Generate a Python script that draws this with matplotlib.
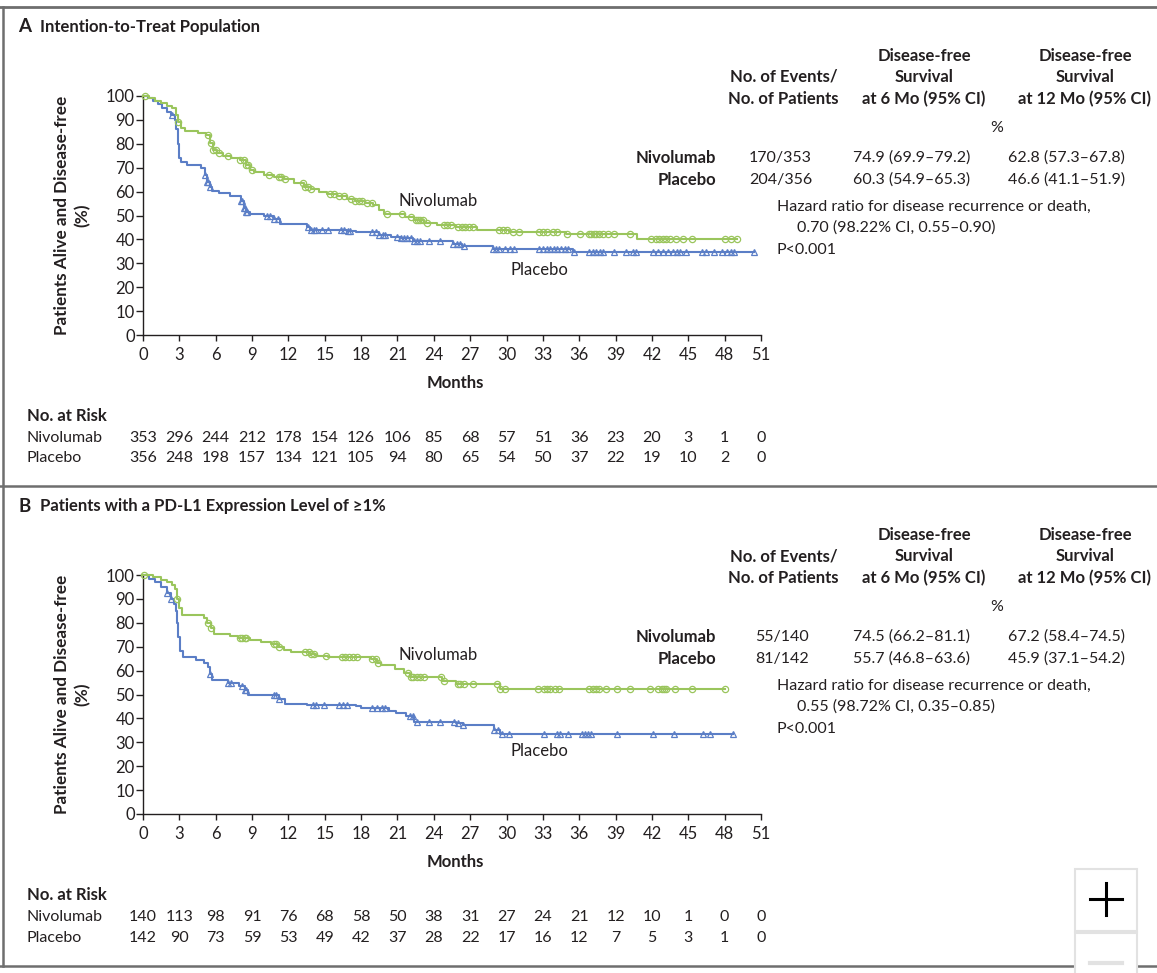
import numpy as np
import matplotlib
matplotlib.use('Agg')
import matplotlib.pyplot as plt
from matplotlib.patches import Rectangle
from matplotlib.lines import Line2D

# ---------------- DATA ----------------
months_ticks = list(range(0, 52, 3))
y_ticks = list(range(0, 101, 10))

# Panel A: Intention-to-treat
a_nivo_t = [0, 0.5, 1.0, 1.5, 2.0, 2.4, 2.7, 2.9, 3.1, 3.5, 4.5, 5.2, 5.5, 5.8, 6.1, 6.6, 7.3,
            8.0, 8.5, 8.8, 9.2, 10.0, 10.8, 11.6, 12.5, 13.3, 13.9, 14.5, 15.2, 16.0, 16.8, 17.5,
            18.3, 19.0, 19.5, 19.9, 21.6, 22.4, 23.2, 24.3, 25.8, 27.6, 30.2, 34.9, 40.8]
a_nivo_s = [100, 99, 98, 97, 96, 95, 92, 89, 86.5, 85.2, 84.5, 83.5, 80.5, 77.5, 76, 75, 74,
            73.2, 71, 69, 68, 67, 66, 65.2, 63.5, 62, 61, 60, 59, 58.2, 57, 56,
            55.2, 54.5, 52.5, 50.8, 49.2, 48.0, 47.0, 46.2, 45.3, 43.9, 43.1, 42.3, 40.1]
a_nivo_end = 49.0
a_nivo_cens = [0.2, 2.9, 5.4, 5.6, 5.8, 6.0, 6.3, 7.0, 8.0, 8.3, 8.5, 8.7, 9.0, 10.4, 11.2, 11.4,
               11.7, 13.2, 13.4, 13.6, 13.9, 15.4, 15.8, 16.2, 16.6, 17.2, 17.5, 17.8, 18.1, 18.5,
               18.9, 20.1, 21.4, 22.1, 22.5, 22.7, 22.9, 23.1, 23.4, 24.8, 25.1, 25.4, 26.0, 26.3,
               26.6, 26.9, 27.2, 29.4, 29.7, 30.0, 30.5, 31.0, 32.7, 33.0, 33.3, 33.8, 34.2, 35.0,
               36.1, 36.8, 37.0, 37.2, 37.4, 37.6, 38.0, 38.4, 38.9, 40.2, 41.9, 42.3, 42.6, 42.9,
               43.2, 43.5, 44.0, 44.6, 45.3, 48.0, 48.5, 49.0]

a_plac_t = [0, 0.4, 0.8, 1.2, 1.6, 2.0, 2.3, 2.6, 2.75, 2.85, 2.95, 3.1, 3.6, 4.8, 5.1, 5.3, 5.5,
            5.7, 6.3, 7.2, 8.1, 8.3, 8.5, 8.8, 10.0, 10.8, 11.3, 13.5, 13.8, 16.8, 17.6, 19.5,
            20.5, 21.3, 22.3, 25.6, 26.3, 28.9, 35.5]
a_plac_s = [100, 99, 98, 96.5, 95, 93.5, 92, 90, 86, 80, 74, 72.3, 71, 70, 67, 64, 62,
            60.4, 59.3, 58.3, 56, 53, 51.3, 50.5, 49.8, 48.5, 46.5, 45, 44, 43.5, 43, 42,
            41, 40.5, 39.5, 38, 37.2, 35.8, 34.9]
a_plac_end = 50.4
a_plac_cens = [2.4, 5.1, 5.3, 5.4, 5.5, 8.1, 8.2, 8.3, 8.4, 8.5, 8.6, 10.2, 10.5, 10.8, 11.1,
               13.6, 13.9, 14.1, 14.3, 14.8, 15.3, 16.3, 16.6, 16.9, 17.1, 18.9, 19.2, 19.5, 19.8,
               20.0, 21.0, 21.3, 21.5, 21.8, 22.1, 22.4, 22.6, 22.9, 23.6, 24.5, 25.6, 25.9, 26.2,
               26.5, 28.9, 29.1, 29.4, 29.9, 30.3, 30.6, 32.7, 33.0, 33.3, 33.6, 33.9, 34.2, 34.5,
               34.8, 35.1, 35.6, 36.8, 37.1, 37.4, 37.7, 38.0, 38.9, 39.9, 40.4, 40.7, 42.1, 42.5,
               42.9, 43.3, 43.7, 44.1, 44.3, 44.8, 46.1, 46.5, 47.1, 47.8, 48.2, 48.5, 48.8, 50.4]

a_risk_nivo = [353, 296, 244, 212, 178, 154, 126, 106, 85, 68, 57, 51, 36, 23, 20, 3, 1, 0]
a_risk_plac = [356, 248, 198, 157, 134, 121, 105, 94, 80, 65, 54, 50, 37, 22, 19, 10, 2, 0]
a_events = ["170/353", "204/356"]
a_dfs6 = ["74.9 (69.9\u201379.2)", "60.3 (54.9\u201365.3)"]
a_dfs12 = ["62.8 (57.3\u201367.8)", "46.6 (41.1\u201351.9)"]
a_hr = "0.70 (98.22% CI, 0.55\u20130.90)"

# Panel B: PD-L1 >= 1%
b_nivo_t = [0, 0.8, 1.5, 2.0, 2.4, 2.65, 2.8, 2.95, 3.2, 5.0, 5.3, 5.6, 5.9, 7.2, 7.8, 8.8, 9.7,
            10.6, 11.1, 11.6, 12.2, 13.8, 14.3, 15.3, 18.8, 19.3, 19.6, 20.8, 21.5, 22.0, 24.7,
            25.8, 29.5]
b_nivo_s = [100, 99, 98, 97, 96, 94, 90, 86, 83.4, 82, 80, 78, 75.5, 74.5, 73.7, 72.8, 72,
            71, 70, 68.5, 67.8, 67, 66, 65.5, 64.7, 63, 62.3, 60.5, 59, 57.5, 55.8,
            54.3, 52.2]
b_nivo_end = 48.0
b_nivo_cens = [0.1, 2.8, 5.4, 5.6, 8.0, 8.2, 8.4, 8.5, 10.8, 11.0, 11.2, 13.4, 13.7, 13.9, 14.1,
               15.1, 16.4, 16.7, 17.0, 17.3, 17.7, 18.9, 19.2, 19.4, 21.9, 22.1, 22.3, 22.6, 22.9,
               23.2, 24.6, 24.8, 26.0, 26.2, 26.5, 27.2, 29.2, 29.5, 29.9, 32.6, 33.1, 33.3, 33.6,
               34.0, 34.3, 36.8, 37.1, 37.4, 37.6, 38.2, 39.1, 40.2, 41.8, 42.5, 42.8, 43.0, 43.2,
               43.9, 45.3, 48.0]

b_plac_t = [0, 0.5, 1.0, 1.5, 2.0, 2.3, 2.55, 2.7, 2.8, 2.9, 3.05, 3.3, 4.4, 5.0, 5.35, 5.5,
            5.7, 7.0, 7.9, 8.4, 8.7, 11.2, 11.7, 13.5, 17.6, 18.0, 20.3, 20.9, 21.7, 22.4,
            25.8, 26.4, 29.0, 29.5]
b_plac_s = [100, 98.5, 97, 95, 92.5, 90, 88, 85, 80, 74, 68, 65.7, 64.6, 63, 61.6, 58.5,
            56, 55, 53.5, 52, 49.7, 48, 46, 45.5, 45, 44.2, 43, 42.3, 41, 38.7,
            38, 37.1, 35, 33.5]
b_plac_end = 48.7
b_plac_cens = [2.0, 2.3, 5.5, 7.0, 7.3, 8.2, 8.4, 8.5, 10.8, 11.0, 11.2, 14.0, 14.3, 14.9, 16.2,
               16.5, 16.8, 18.9, 19.3, 19.7, 20.0, 22.0, 22.3, 22.6, 23.6, 24.5, 25.7, 26.0, 26.4,
               29.0, 29.3, 29.6, 30.2, 33.1, 34.2, 34.4, 35.1, 36.2, 36.5, 36.7, 37.0, 39.1, 42.1,
               43.8, 46.2, 46.8, 48.7]

b_risk_nivo = [140, 113, 98, 91, 76, 68, 58, 50, 38, 31, 27, 24, 21, 12, 10, 1, 0, 0]
b_risk_plac = [142, 90, 73, 59, 53, 49, 42, 37, 28, 22, 17, 16, 12, 7, 5, 3, 1, 0]
b_events = ["55/140", "81/142"]
b_dfs6 = ["74.5 (66.2\u201381.1)", "55.7 (46.8\u201363.6)"]
b_dfs12 = ["67.2 (58.4\u201374.5)", "45.9 (37.1\u201354.2)"]
b_hr = "0.55 (98.72% CI, 0.35\u20130.85)"

groups = ["Nivolumab", "Placebo"]
titles = [("A", "Intention-to-Treat Population"),
          ("B", "Patients with a PD-L1 Expression Level of \u22651%")]

# ---------------- STYLE ----------------
GREEN = '#9AC55C'
BLUE = '#5B7EC6'
TXT = '#231F20'
FRAME = '#6E6E6E'
plt.rcParams['font.family'] = ['Lato', 'DejaVu Sans']
NARROW = ['Liberation Sans Narrow', 'Lato', 'DejaVu Sans']

W, H = 1157, 973
fig = plt.figure(figsize=(W / 100, H / 100), dpi=100)
fig.patch.set_facecolor('white')


def fx(x):
    return x / W


def fy(y):
    return 1 - y / H


def T(x, y, s, **kw):
    kw.setdefault('va', 'center')
    kw.setdefault('fontsize', 11.5)
    kw.setdefault('color', TXT)
    fig.text(fx(x), fy(y), s, **kw)


def step_value(t, s, x):
    i = np.searchsorted(np.array(t), x, side='right') - 1
    return np.array(s)[np.clip(i, 0, len(s) - 1)]


panels = [
    dict(dy=0, nt=a_nivo_t, ns=a_nivo_s, ne=a_nivo_end, nc=a_nivo_cens,
         pt=a_plac_t, ps=a_plac_s, pe=a_plac_end, pc=a_plac_cens,
         rn=a_risk_nivo, rp=a_risk_plac, ev=a_events, d6=a_dfs6, d12=a_dfs12, hr=a_hr,
         evx=749, niv_lab=(398, 201), pla_lab=(511, 270)),
    dict(dy=479, nt=b_nivo_t, ns=b_nivo_s, ne=b_nivo_end, nc=b_nivo_cens,
         pt=b_plac_t, ps=b_plac_s, pe=b_plac_end, pc=b_plac_cens,
         rn=b_risk_nivo, rp=b_risk_plac, ev=b_events, d6=b_dfs6, d12=b_dfs12, hr=b_hr,
         evx=755, niv_lab=(398, 176), pla_lab=(511, 272)),
]

for k, P in enumerate(panels):
    dy = P['dy']
    ax = fig.add_axes([fx(143), fy(335 + dy), (761 - 143) / W, 239 / H])
    ax.set_xlim(0, 51)
    ax.set_ylim(0, 100)
    for sp in ['top', 'right']:
        ax.spines[sp].set_visible(False)
    for sp in ['left', 'bottom']:
        ax.spines[sp].set_linewidth(1.0)
        ax.spines[sp].set_color(TXT)
    ax.set_xticks(months_ticks)
    ax.set_xticklabels([str(m) for m in months_ticks], fontfamily=NARROW, fontsize=12, color=TXT)
    ax.set_yticks(y_ticks)
    ax.set_yticklabels([str(v) for v in y_ticks], fontsize=12, color=TXT)
    ax.tick_params(axis='x', direction='out', length=4, width=1.0, pad=4.5, color=TXT)
    ax.tick_params(axis='y', direction='out', length=5, width=1.0, pad=1, color=TXT)
    ax.patch.set_alpha(0)

    for t, s, e, c, col, mk in [(P['pt'], P['ps'], P['pe'], P['pc'], BLUE, '^'),
                                (P['nt'], P['ns'], P['ne'], P['nc'], GREEN, 'o')]:
        tt = list(t) + [e]
        ss = list(s) + [s[-1]]
        ax.step(tt, ss, where='post', color=col, lw=1.5, clip_on=False, zorder=3)
        cy = step_value(t, s, np.array(c))
        ax.plot(c, cy, ls='none', marker=mk, ms=4.5, mfc='none', mec=col,
                mew=0.9, clip_on=False, zorder=4)

    # curve labels
    T(P['niv_lab'][0], P['niv_lab'][1] + (0 if k == 0 else dy), 'Nivolumab', ha='left', fontsize=12)
    T(P['pla_lab'][0], P['pla_lab'][1] + (0 if k == 0 else dy), 'Placebo', ha='left', fontsize=12)

    # panel title
    T(18, 27 + dy, titles[k][0], ha='left', fontsize=13.5, fontweight='bold')
    T(40, 27 + dy, titles[k][1], ha='left', fontsize=12, fontweight='bold')

    # y label
    T(62, 215 + dy, 'Patients Alive and Disease-free', ha='center', rotation=90,
      fontsize=12.3, fontweight='bold')
    T(82, 215 + dy, '(%)', ha='center', rotation=90, fontsize=12.3, fontweight='bold')
    # x label
    T(455, 383 + dy, 'Months', ha='center', fontweight='bold', fontsize=12)

    # table header
    T(838, 77 + dy, 'No. of Events/', ha='right', fontweight='bold', fontsize=12)
    T(838, 99 + dy, 'No. of Patients', ha='right', fontweight='bold', fontsize=12)
    for cx, lab in [(924, 'at 6 Mo (95% CI)'), (1085, 'at 12 Mo (95% CI)')]:
        T(cx, 56 + dy, 'Disease-free', ha='center', fontweight='bold', fontsize=12)
        T(cx, 77 + dy, 'Survival', ha='center', fontweight='bold', fontsize=12)
        T(cx, 99 + dy, lab, ha='center', fontweight='bold', fontsize=12)
    T(997, 128 + dy, '%', ha='center')
    for j, g in enumerate(groups):
        yy = 158 + 22 * j + dy
        T(716, yy, g, ha='right', fontweight='bold', fontsize=12)
        T(P['evx'], yy, P['ev'][j], ha='left')
        T(853, yy, P['d6'][j], ha='left')
        T(1008, yy, P['d12'][j], ha='left')
    T(777, 207 + dy, 'Hazard ratio for disease recurrence or death,', ha='left')
    T(797, 228 + dy, P['hr'], ha='left')
    T(777, 250 + dy, 'P<0.001', ha='left')

    # number at risk
    T(27, 416 + dy, 'No. at Risk', ha='left', fontweight='bold', fontfamily=NARROW, fontsize=12)
    for j, (g, row) in enumerate([(groups[0], P['rn']), (groups[1], P['rp'])]):
        yy = 438 + 20.5 * j + dy
        T(27, yy, g, ha='left', fontfamily=NARROW, fontsize=11.5)
        for m, v in zip(months_ticks, row):
            xp = ax.transData.transform((m, 0))[0]
            fig.text(xp / W, fy(yy), str(v), ha='center', va='center', fontsize=11.5,
                     fontfamily=NARROW, color=TXT)

# ---------------- FRAME ----------------
def hline(y, x0=0, x1=W, lw=1.8, color=FRAME):
    fig.add_artist(Line2D([fx(x0), fx(x1)], [fy(y), fy(y)], transform=fig.transFigure,
                          color=color, lw=lw, zorder=1))

hline(7, lw=2.0)
hline(486, lw=1.8)
hline(966, lw=1.8)
fig.add_artist(Line2D([fx(2.5), fx(2.5)], [fy(7), fy(966)], transform=fig.transFigure,
                      color=FRAME, lw=1.8, zorder=1))

# zoom control (viewer widget)
fig.add_artist(Rectangle((fx(1075), fy(931)), 62 / W, 62 / H, transform=fig.transFigure,
                         facecolor='white', edgecolor='#E2E2E2', lw=1.5, zorder=5))
fig.add_artist(Rectangle((fx(1075), fy(980)), 62 / W, 47 / H, transform=fig.transFigure,
                         facecolor='white', edgecolor='#E2E2E2', lw=1.5, zorder=5))
fig.add_artist(Line2D([fx(1090), fx(1122)], [fy(899), fy(899)], transform=fig.transFigure,
                      color='black', lw=2.2, zorder=6))
fig.add_artist(Line2D([fx(1106), fx(1106)], [fy(883), fy(915)], transform=fig.transFigure,
                      color='black', lw=2.2, zorder=6))
fig.add_artist(Line2D([fx(1090), fx(1122)], [fy(963), fy(963)], transform=fig.transFigure,
                      color='#E2E2E2', lw=3, zorder=6))

fig.savefig('out.png', dpi=100, facecolor='white')
